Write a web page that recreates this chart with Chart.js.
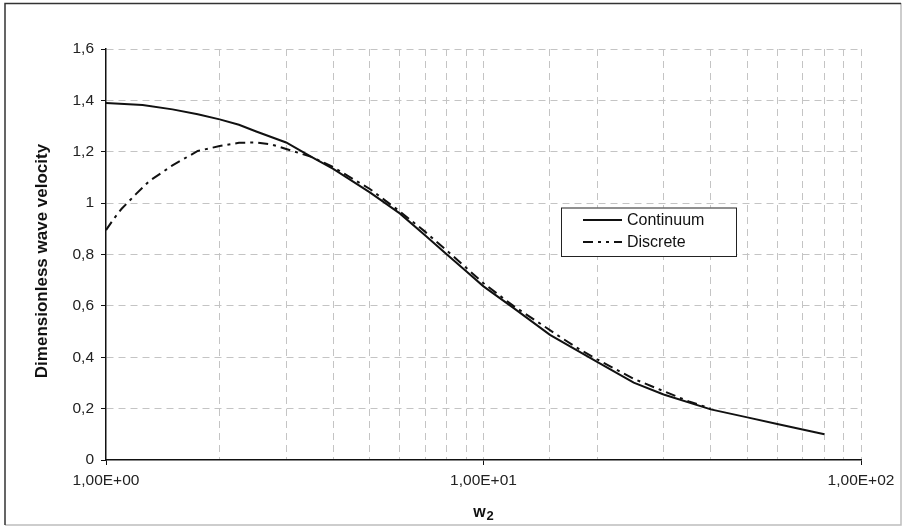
<!DOCTYPE html>
<html>
<head>
<meta charset="utf-8">
<script src="https://cdn.jsdelivr.net/npm/chart.js@4.4.1/dist/chart.umd.min.js"></script>
<style>
  html, body { margin: 0; padding: 0; background: #fff; }
  #wrap { position: relative; width: 909px; height: 529px; }
</style>
</head>
<body>
<div id="wrap"><canvas id="chart" width="909" height="529"></canvas></div>
<script>
// values
const continuumX = [1, 1.25, 1.5, 1.75, 2, 2.25, 2.5, 3, 3.5, 4, 5, 6, 7, 8, 9, 10, 12, 15, 20, 25, 30, 40, 50, 60, 70, 80]
const continuumY = [1.390, 1.382, 1.365, 1.346, 1.326, 1.305, 1.279, 1.236, 1.180, 1.133, 1.042, 0.960, 0.875, 0.800, 0.735, 0.676, 0.592, 0.487, 0.382, 0.301, 0.255, 0.197, 0.166, 0.140, 0.119, 0.100]

const discreteX = [1, 1.05, 1.1, 1.2, 1.3, 1.5, 1.75, 2, 2.25, 2.5, 2.75, 3, 3.5, 4, 5, 6, 7, 8, 9, 10, 12, 14, 16, 18, 20, 25, 30, 35, 40]
const discreteY = [0.895, 0.940, 0.978, 1.035, 1.085, 1.147, 1.203, 1.222, 1.235, 1.236, 1.228, 1.211, 1.180, 1.140, 1.055, 0.968, 0.889, 0.815, 0.748, 0.688, 0.600, 0.535, 0.478, 0.430, 0.392, 0.316, 0.268, 0.228, 0.200]

const seriesNames = ['Continuum', 'Discrete']
const xTickLabels = { 1: '1,00E+00', 10: '1,00E+01', 100: '1,00E+02' }
const yAxisTitle = 'Dimensionless wave velocity'
const xAxisTitle = 'w'
const xAxisTitleSub = '2'

const FONT = "'Liberation Sans', Arial, sans-serif"
const GRID = '#c4c4c4'

const toPoints = (xs, ys) => xs.map((x, i) => ({ x: x, y: ys[i] }))

const isDecade = (v) => Math.abs(Math.log10(v) - Math.round(Math.log10(v))) < 1e-9

// outer frame, axis titles and the boxed legend
const decorations = {
  id: 'decorations',
  beforeDraw(chart) {
    const ctx = chart.ctx
    ctx.save()
    ctx.fillStyle = '#fff'
    ctx.fillRect(0, 0, chart.width, chart.height)
    ctx.lineWidth = 1.5
    ctx.strokeStyle = '#bdbdbd'
    ctx.beginPath()
    ctx.moveTo(901, 3)
    ctx.lineTo(901, 525)
    ctx.lineTo(5, 525)
    ctx.stroke()
    ctx.strokeStyle = '#333'
    ctx.beginPath()
    ctx.moveTo(5, 525)
    ctx.lineTo(5, 3.5)
    ctx.lineTo(901, 3.5)
    ctx.stroke()
    ctx.restore()
  },
  afterDraw(chart) {
    const ctx = chart.ctx
    ctx.save()
    ctx.fillStyle = '#111'

    // y title
    ctx.font = `bold 17px ${FONT}`
    ctx.textAlign = 'center'
    ctx.textBaseline = 'middle'
    ctx.translate(42, 261)
    ctx.rotate(-Math.PI / 2)
    ctx.fillText(yAxisTitle, 0, 0)
    ctx.setTransform(1, 0, 0, 1, 0, 0)

    // x title with subscript
    ctx.font = `bold 16px ${FONT}`
    const wW = ctx.measureText(xAxisTitle).width
    ctx.font = `bold 13px ${FONT}`
    const sW = ctx.measureText(xAxisTitleSub).width
    const startX = 483 - (wW + sW) / 2
    ctx.textAlign = 'left'
    ctx.textBaseline = 'alphabetic'
    ctx.font = `bold 16px ${FONT}`
    ctx.fillText(xAxisTitle, startX, 517)
    ctx.font = `bold 13px ${FONT}`
    ctx.fillText(xAxisTitleSub, startX + wW + 1, 520)

    // legend
    const box = { l: 561, t: 207.5, r: 736, b: 256 }
    ctx.fillStyle = '#fff'
    ctx.fillRect(box.l, box.t, box.r - box.l, box.b - box.t)
    ctx.strokeStyle = '#222'
    ctx.lineWidth = 1
    ctx.strokeRect(box.l + 0.5, box.t + 0.5, box.r - box.l, box.b - box.t)
    const rows = [220, 242]
    chart.data.datasets.forEach((ds, i) => {
      ctx.beginPath()
      ctx.strokeStyle = ds.borderColor
      ctx.lineWidth = ds.borderWidth
      ctx.setLineDash(i === 1 ? [10, 5, 3, 5, 3, 5] : [])
      ctx.moveTo(583, rows[i])
      ctx.lineTo(622, rows[i])
      ctx.stroke()
      ctx.setLineDash([])
      ctx.fillStyle = '#111'
      ctx.font = `16px ${FONT}`
      ctx.textBaseline = 'middle'
      ctx.fillText(ds.label, 627, rows[i] + 1)
    })
    ctx.restore()
  }
}

const chart = new Chart(document.getElementById('chart'), {
  type: 'line',
  data: {
    datasets: [
      {
        label: seriesNames[0],
        data: toPoints(continuumX, continuumY),
        borderColor: '#111',
        borderWidth: 2,
        pointRadius: 0,
        tension: 0,
        fill: false
      },
      {
        label: seriesNames[1],
        data: toPoints(discreteX, discreteY),
        borderColor: '#111',
        borderWidth: 2,
        borderDash: [10, 5, 3, 5],
        pointRadius: 0,
        tension: 0,
        fill: false
      }
    ]
  },
  options: {
    responsive: false,
    animation: false,
    layout: { padding: { left: 0, top: 49, right: 48, bottom: 0 } },
    plugins: {
      legend: { display: false },
      tooltip: { enabled: false }
    },
    scales: {
      x: {
        type: 'logarithmic',
        min: 1,
        max: 100,
        afterFit: (scale) => { scale.height = 69 },
        grid: {
          color: (c) => (c.tick && c.tick.value === 1 ? 'rgba(0,0,0,0)' : GRID),
          tickColor: (c) => (c.tick && isDecade(c.tick.value) ? '#111' : 'rgba(0,0,0,0)'),
          tickLength: 5,
          lineWidth: 1
        },
        border: { display: true, color: '#111', width: 1.5, dash: [7, 5] },
        ticks: {
          autoSkip: false,
          maxRotation: 0,
          padding: 6,
          color: '#222',
          font: { family: FONT, size: 15.5 },
          callback: (v) => (isDecade(v) ? xTickLabels[Math.round(v)] : '')
        }
      },
      y: {
        min: 0,
        max: 1.6,
        afterFit: (scale) => { scale.width = 106 },
        grid: {
          color: (c) => (c.tick && c.tick.value === 0 ? 'rgba(0,0,0,0)' : GRID),
          tickColor: '#111',
          tickLength: 5,
          lineWidth: 1
        },
        border: { display: true, color: '#111', width: 1.5, dash: [7, 5] },
        ticks: {
          stepSize: 0.2,
          padding: 7,
          color: '#222',
          font: { family: FONT, size: 15.5 },
          callback: (v) => String(Math.round(v * 10) / 10).replace('.', ',')
        }
      }
    }
  },
  plugins: [decorations]
})
</script>
</body>
</html>
